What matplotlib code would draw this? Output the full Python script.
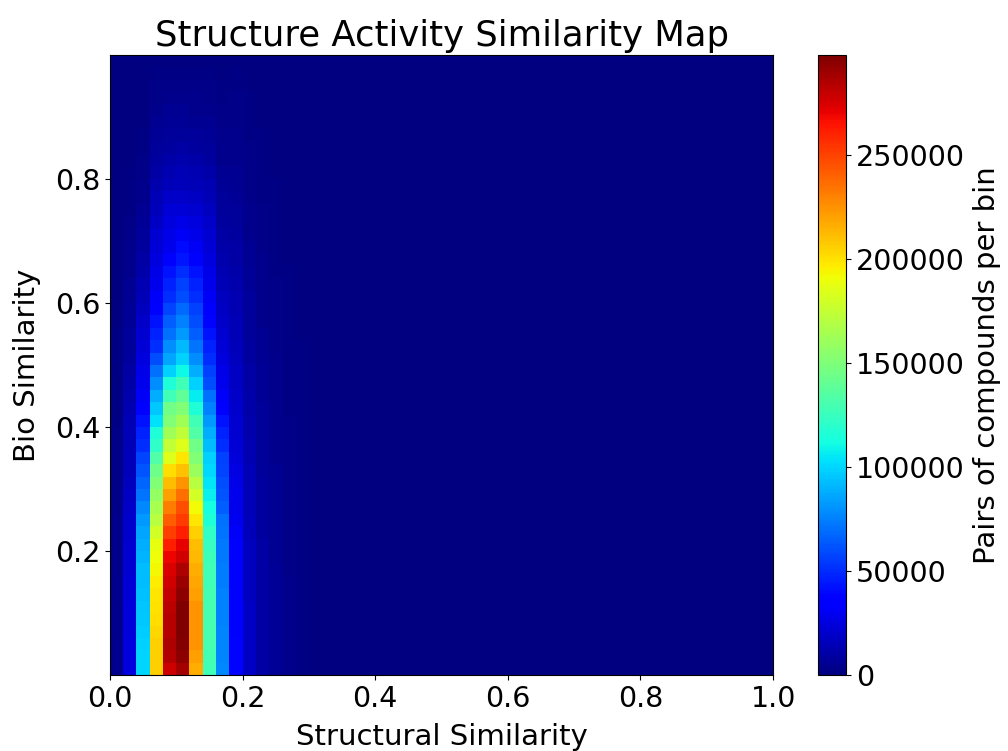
import numpy as np
import matplotlib
matplotlib.use("Agg")
import matplotlib.pyplot as plt

# Counts per bin (thousands of compound pairs), 50 x-bins by 50 y-bins (width 0.02).
# Each list is one structural-similarity column, from bio similarity 0.00 upward.
X_EDGES = np.linspace(0.0, 1.0, 51)
Y_EDGES = np.linspace(0.0, 1.0, 51)

col_000 = [4, 4, 4, 4, 4, 4, 4, 4, 4, 4, 3.5, 3.5, 3.5, 3, 3, 3, 3, 2.5, 2.5, 2.5,
           2, 2, 2, 2, 1.5, 1.5, 1.5, 1.5, 1, 1, 1, 1, 1, 1, 0.5, 0.5, 0.5, 0.5, 0.5, 0.5,
           0.5, 0.5, 0.5, 0.5, 0.5, 0.5, 0.5, 0.5, 0.5, 0.5]
col_002 = [25, 25, 25, 24, 24, 24, 23, 23, 22, 22, 21, 20, 20, 19, 18, 17, 16, 15.5, 15, 14.5,
           14, 13, 12, 11, 10, 9, 8, 7, 6.5, 6, 5.5, 5, 4.5, 4, 3.5, 3, 2.5, 2, 2, 1.5,
           1.5, 1, 1, 1, 1, 0.5, 0.5, 0.5, 0.5, 0.5]
col_004 = [100, 99, 98, 97, 96, 95, 94, 93, 92, 90, 88, 86, 82, 77, 72, 67, 62, 58, 51, 47,
           42, 34, 31, 29, 27, 25, 23, 21, 19, 17, 15, 13, 11.5, 10, 8.5, 7, 6, 5, 4, 3.5,
           3, 2.5, 2, 1.5, 1, 0.5, 0.5, 0.5, 0.5, 0.5]
col_006 = [206, 206, 205, 203, 201, 200, 198, 196, 193, 190, 188, 180, 171, 165, 158, 151, 144, 133, 122, 116,
           103, 96, 88, 79, 70, 60, 51, 47, 42, 36, 32, 29, 27, 25, 23, 21, 18, 16, 14, 12,
           10, 8.5, 7, 6, 5, 4, 3, 2.5, 2, 1]
col_008 = [278, 285, 286, 284, 284, 282, 280, 276, 274, 269, 261, 251, 241, 231, 221, 211, 201, 185, 174, 162,
           151, 145, 128, 116, 98, 86, 79, 70, 65, 58, 51, 47, 42, 34, 29, 27, 25, 23, 19, 16,
           13, 11, 9, 7, 6, 5, 4, 3, 2, 1]
col_010 = [288, 294, 296, 298, 298, 297, 294, 290, 286, 277, 271, 261, 252, 246, 236, 224, 210, 198, 185, 173,
           162, 151, 139, 128, 110, 98, 91, 82, 75, 68, 60, 56, 51, 44, 40, 31, 27, 23, 19, 16,
           14, 12, 10, 8, 6.5, 5, 4, 3, 2, 1]
col_012 = [216, 221, 224, 224, 224, 224, 221, 218, 216, 213, 211, 206, 198, 191, 180, 170, 160, 151, 145, 133,
           128, 116, 107, 98, 88, 79, 72, 65, 60, 56, 51, 47, 42, 34, 31, 27, 25, 22, 18, 15,
           13, 11, 9, 7, 5.5, 4.5, 3.5, 2.5, 2, 1]
col_014 = [128, 129, 130, 130, 130, 130, 129, 128, 127, 126, 124, 122, 116, 112, 108, 104, 101, 98, 93, 88,
           82, 75, 70, 60, 56, 51, 47, 42, 38, 34, 31, 29, 27, 25, 23, 21, 19, 17, 15, 13,
           11, 9, 8, 6.5, 5, 4, 3, 2.5, 2, 1]
col_016 = [77, 76, 76, 76, 75, 75, 75, 74, 74, 73, 73, 72, 70, 65, 62, 60, 58, 56, 51, 47,
           42, 35, 32, 29, 27, 25, 23, 21, 19.5, 18, 16.5, 15, 13.5, 12, 11, 10, 9, 8, 7, 6,
           5, 4.5, 4, 3.5, 3, 2.5, 2, 1.5, 1, 0.5]
col_018 = [38, 38, 38, 37, 37, 36, 36, 35, 35, 34, 33, 32, 30, 29, 28, 27, 26, 24, 23, 22,
           21, 20, 19, 18, 17.5, 17, 16, 15, 14, 13.5, 13, 12, 11, 10, 9.5, 9, 8, 7, 6, 5.5,
           5, 4.5, 4, 3.5, 3, 3, 2.5, 2, 1.5, 1]
col_020 = [18, 18, 18, 18, 18, 18, 17, 17, 17, 17, 17, 16, 16, 15, 15, 14, 14, 13, 13, 12,
           12, 11, 11, 10, 10, 9, 9, 8, 8, 7.5, 7, 6.5, 6, 5.5, 5, 4.5, 4, 3.5, 3, 3,
           3, 2.5, 2.5, 2, 2, 1.5, 1.5, 1, 1, 0.5]
col_022 = [10, 10, 10, 10, 10, 10, 10, 10, 9.5, 9.5, 9.5, 9, 9, 9, 8.5, 8.5, 8, 8, 7.5, 7.5,
           7, 7, 6.5, 6, 6, 5.5, 5, 5, 4.5, 4.5, 4, 4, 3.5, 3.5, 3, 3, 2.5, 2.5, 2, 2,
           2, 1.5, 1.5, 1.5, 1, 1, 1, 0.5, 0.5, 0.5]
col_024 = [6, 6, 6, 6, 6, 6, 6, 6, 6, 5.5, 5.5, 5.5, 5.5, 5, 5, 5, 5, 4.5, 4.5, 4.5,
           4, 4, 4, 3.5, 3.5, 3.5, 3, 3, 3, 2.5, 2.5, 2.5, 2, 2, 2, 2, 1.5, 1.5, 1.5, 1.5,
           1, 1, 1, 1, 1, 0.5, 0.5, 0.5, 0.5, 0.5]
col_026 = [3.5, 3.5, 3.5, 3.5, 3.5, 3.5, 3.5, 3.5, 3, 3, 3, 3, 3, 3, 3, 2.5, 2.5, 2.5, 2.5, 2.5,
           2.5, 2, 2, 2, 2, 2, 2, 1.5, 1.5, 1.5, 1.5, 1.5, 1.5, 1, 1, 1, 1, 1, 1, 1,
           0.5, 0.5, 0.5, 0.5, 0.5, 0.5, 0.5, 0.5, 0.5, 0.5]
col_028 = [2, 2, 2, 2, 2, 2, 2, 2, 2, 2, 2, 1.8, 1.8, 1.8, 1.8, 1.6, 1.6, 1.6, 1.6, 1.4,
           1.4, 1.4, 1.4, 1.2, 1.2, 1.2, 1.2, 1, 1, 1, 1, 0.8, 0.8, 0.8, 0.8, 0.6, 0.6, 0.6, 0.6, 0.5,
           0.5, 0.4, 0.4, 0.4, 0.3, 0.3, 0.3, 0.3, 0.3, 0.3]
col_030 = [1, 1, 1, 1, 1, 1, 1, 1, 1, 1, 1, 1, 1, 0.9, 0.9, 0.9, 0.9, 0.8, 0.8, 0.8,
           0.8, 0.7, 0.7, 0.7, 0.7, 0.6, 0.6, 0.6, 0.5, 0.5, 0.5, 0.5, 0.4, 0.4, 0.4, 0.4, 0.3, 0.3, 0.3, 0.3,
           0.2, 0.2, 0.2, 0.2, 0.2, 0.2, 0.2, 0.2, 0.2, 0.2]

COLUMNS = [col_000, col_002, col_004, col_006, col_008, col_010, col_012, col_014,
           col_016, col_018, col_020, col_022, col_024, col_026, col_028, col_030]

TITLE = "Structure Activity Similarity Map"
XLABEL = "Structural Similarity"
YLABEL = "Bio Similarity"
CBAR_LABEL = "Pairs of compounds per bin"

counts = np.zeros((50, 50))
counts[:, :len(COLUMNS)] = np.column_stack(COLUMNS) * 1000

fig = plt.figure(figsize=(10.08, 7.51), dpi=100)
ax = fig.add_axes([0.109, 0.101, 0.658, 0.826])
cax = fig.add_axes([0.8115, 0.101, 0.028, 0.826])

mesh = ax.pcolormesh(X_EDGES, Y_EDGES, counts, cmap="jet",
                     vmin=0, vmax=counts.max(), shading="flat")
ax.set_xlim(0, 1)
ax.set_ylim(0, 1)
ax.set_xticks([0.0, 0.2, 0.4, 0.6, 0.8, 1.0])
ax.set_yticks([0.2, 0.4, 0.6, 0.8])
ax.tick_params(labelsize=20.5)
ax.set_title(TITLE, fontsize=25.5)
ax.set_xlabel(XLABEL, fontsize=21, labelpad=7)
ax.set_ylabel(YLABEL, fontsize=21, labelpad=10)

cb = fig.colorbar(mesh, cax=cax)
cb.ax.tick_params(labelsize=20.5)
cb.set_label(CBAR_LABEL, fontsize=21, labelpad=6)

fig.savefig("out.png", dpi=100)
